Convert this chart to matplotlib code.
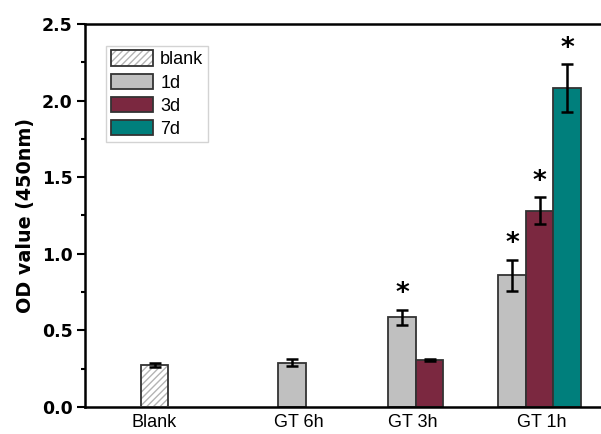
import matplotlib
matplotlib.use('Agg')
import matplotlib.pyplot as plt
import numpy as np

# OD values
groups = ['GT 6h', 'GT 3h', 'GT 1h']
blank_val = 0.274
blank_err = 0.010
d1 = [0.289, 0.585, 0.860]
d1_err = [0.023, 0.047, 0.100]
d3 = [np.nan, 0.307, 1.281]
d3_err = [np.nan, 0.008, 0.087]
d7 = [np.nan, np.nan, 2.080]
d7_err = [np.nan, np.nan, 0.157]
sig1 = [False, True, True]
sig3 = [False, False, True]
sig7 = [False, False, True]
tick_names = ['Blank', 'GT 6h', 'GT 3h', 'GT 1h']

# layout: blank at 0, groups at 1.5, 2.5, 3.5 with 3 bar slots each
group_x = np.array([1.5, 2.5, 3.5])
w = 0.25
tick_x = [0.0, 1.31, 2.35, 3.52]

fig = plt.figure(figsize=(6.01, 4.34), dpi=100)
ax = fig.add_axes([85/601, 27/434, 525/601, 383/434])

edge = '#333333'
# hatch takes the edge colour, so draw hatch and outline separately
hb = ax.bar(0, blank_val, w, color='white', edgecolor='#b4b4b4', linewidth=0,
            hatch='/////', zorder=2)
ob = ax.bar(0, blank_val, w, color='none', edgecolor=edge, linewidth=1.3, zorder=3)

handles = [(hb[0], ob[0])]
labels = ['blank']
series = [(d1, d1_err, sig1, '#c0c0c0', '1d', -w),
          (d3, d3_err, sig3, '#7b2840', '3d', 0),
          (d7, d7_err, sig7, '#007f7c', '7d', w)]
for vals, errs, sig, col, lab, off in series:
    vals = np.array(vals)
    errs = np.array(errs)
    xs = group_x + off
    bars = ax.bar(xs, vals, w, color=col, edgecolor=edge, linewidth=1.3, zorder=2)
    handles.append(bars[-1])
    labels.append(lab)
    ok = ~np.isnan(vals)
    ax.errorbar(xs[ok], vals[ok], yerr=errs[ok], fmt='none', ecolor='black',
                elinewidth=1.8, capsize=4, capthick=1.8, zorder=4)
    for x, v, e, s in zip(xs, vals, errs, sig):
        if s:
            ax.annotate('*', (x, v + e), xytext=(0, 2), textcoords='offset points',
                        ha='center', va='bottom', fontsize=19, fontweight='bold',
                        family='DejaVu Sans')

ax.errorbar([0], [blank_val], yerr=[blank_err], fmt='none', ecolor='black',
            elinewidth=1.8, capsize=4, capthick=1.8, zorder=4)

ax.set_xlim(-0.632, 4.14)
ax.set_ylim(0, 2.5)
ax.set_yticks(np.arange(0, 2.51, 0.5))
ax.set_yticks(np.arange(0.25, 2.5, 0.5), minor=True)
ax.set_yticklabels([f'{v:.1f}' for v in np.arange(0, 2.51, 0.5)],
                   fontsize=12.5, fontweight='bold', family='DejaVu Sans')
ax.set_xticks(tick_x)
ax.set_xticklabels(tick_names, fontsize=13, family='Liberation Sans')
ax.tick_params(axis='x', length=0, pad=5)
ax.tick_params(axis='y', which='major', direction='out', length=6, width=1.5, pad=3)
ax.tick_params(axis='y', which='minor', direction='out', length=3, width=1.5)
ax.set_ylabel('OD value (450nm)', fontsize=13.8, fontweight='bold',
              family='DejaVu Sans', labelpad=5)
for sp in ax.spines.values():
    sp.set_linewidth(1.8)

leg = ax.legend(handles, labels, loc='upper left', bbox_to_anchor=(0.04, 0.9426),
                borderaxespad=0, prop={'family': 'Liberation Sans', 'size': 13},
                frameon=True, fancybox=False, edgecolor='#c8c8c8',
                handlelength=2.35, handleheight=0.95, labelspacing=0.28,
                handletextpad=0.4, borderpad=0.25)
leg.get_frame().set_linewidth(1.0)

fig.savefig('out.png', dpi=100)
